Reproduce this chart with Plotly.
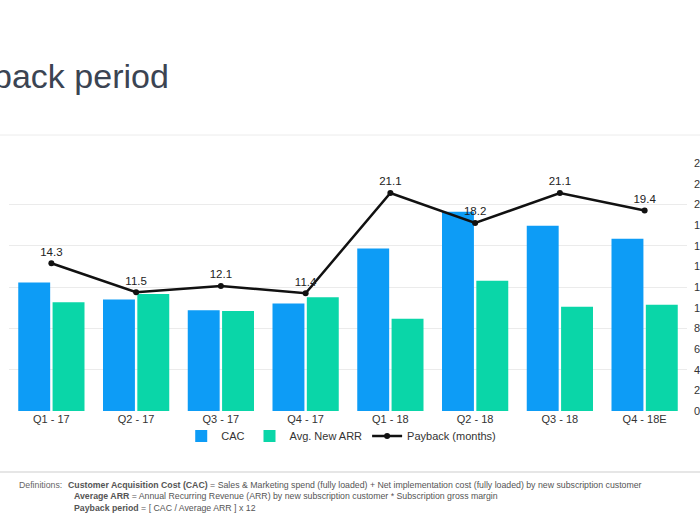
import plotly.graph_objects as go

# ---- data ----
quarters = ["Q1 - 17", "Q2 - 17", "Q3 - 17", "Q4 - 17", "Q1 - 18", "Q2 - 18", "Q3 - 18", "Q4 - 18E"]
cac = [3.11, 2.70, 2.44, 2.60, 3.93, 4.82, 4.48, 4.17]
avg_new_arr = [2.63, 2.83, 2.42, 2.75, 2.23, 3.15, 2.52, 2.57]
payback_months = [14.3, 11.5, 12.1, 11.4, 21.1, 18.2, 21.1, 19.4]
payback_ticks = [0, 2, 4, 6, 8, 10, 12, 14, 16, 18, 20, 22, 24]

FONT = "Liberation Sans, Arial, Helvetica, sans-serif"
W, H = 700, 525
ML, MR, MT, MB = 9, 13, 163, 114
PW, PH = W - ML - MR, H - MT - MB


def px_x(x):
    return (x - ML) / PW


def px_y(y):
    return (H - MB - y) / PH


fig = go.Figure()
fig.add_trace(go.Bar(x=quarters, y=cac, name="CAC", marker_color="#0d9cf6",
                     marker_line_width=0))
fig.add_trace(go.Bar(x=quarters, y=avg_new_arr, name="Avg. New ARR", marker_color="#0ad6a8",
                     marker_line_width=0))
fig.add_trace(go.Scatter(x=quarters, y=payback_months, name="Payback (months)", yaxis="y2",
                         mode="lines+markers+text",
                         line=dict(color="#111111", width=2.5),
                         marker=dict(color="#111111", size=6),
                         text=[f"{v:.1f}" for v in payback_months],
                         textposition="top center",
                         textfont=dict(size=11.5, color="#222222", family=FONT),
                         cliponaxis=False))

fig.update_layout(
    template="none",
    width=W, height=H, autosize=False,
    margin=dict(l=ML, r=MR, t=MT, b=MB, pad=0, autoexpand=False),
    paper_bgcolor="white", plot_bgcolor="white",
    font=dict(family=FONT, size=11, color="#333333"),
    barmode="group", bargap=0.19, bargroupgap=0.07,
    xaxis=dict(showgrid=False, showline=False, ticks="", automargin=False,
               tickfont=dict(size=11, color="#333333")),
    yaxis=dict(range=[0, 6], dtick=1, showticklabels=False, gridcolor="#ebebeb",
               gridwidth=1, zeroline=False, showline=False, automargin=False),
    yaxis2=dict(overlaying="y", side="right", range=[0, 24], tickvals=payback_ticks,
                showgrid=False, zeroline=False, showline=False, ticks="", automargin=False,
                ticklabelstandoff=6,
                tickfont=dict(size=11, color="#333333")),
    legend=dict(orientation="h", x=0.49, xanchor="center", y=px_y(436), yanchor="middle",
                font=dict(size=11, color="#333333"), itemwidth=30,
                bgcolor="rgba(0,0,0,0)", traceorder="normal"),
    showlegend=True,
)

# separators
fig.add_shape(type="line", xref="paper", yref="paper", x0=px_x(-5), x1=px_x(705),
              y0=px_y(135), y1=px_y(135), line=dict(color="#ececec", width=1))
fig.add_shape(type="line", xref="paper", yref="paper", x0=px_x(-5), x1=px_x(705),
              y0=px_y(472), y1=px_y(472), line=dict(color="#e6e6e6", width=2))

# title (partially cut off at the left edge as in the reference)
fig.add_annotation(xref="paper", yref="paper", x=px_x(171), y=px_y(76), xanchor="right",
                   yanchor="middle", showarrow=False, text="CAC payback period",
                   font=dict(size=34, color="#3b4452", family=FONT))

# definitions
fig.add_annotation(xref="paper", yref="paper", x=px_x(17), y=px_y(485), xanchor="left",
                   yanchor="middle", showarrow=False, text="Definitions:",
                   font=dict(size=8.75, color="#666666", family=FONT))
def_lines = [
    (66, 485, "<b>Customer Acquisition Cost (CAC)</b> = Sales &amp; Marketing spend (fully loaded) + Net implementation cost (fully loaded) by new subscription customer"),
    (72, 496, "<b>Average ARR</b> = Annual Recurring Revenue (ARR) by new subscription customer * Subscription gross margin"),
    (72, 508, "<b>Payback period</b> = [ CAC / Average ARR ] x 12"),
]
for x, y, t in def_lines:
    fig.add_annotation(xref="paper", yref="paper", x=px_x(x), y=px_y(y), xanchor="left",
                       yanchor="middle", showarrow=False, text=t,
                       font=dict(size=8.75, color="#555555", family=FONT))

fig.write_html("out.html", config={"displayModeBar": False},
               post_script="document.body.style.margin='0px';")
